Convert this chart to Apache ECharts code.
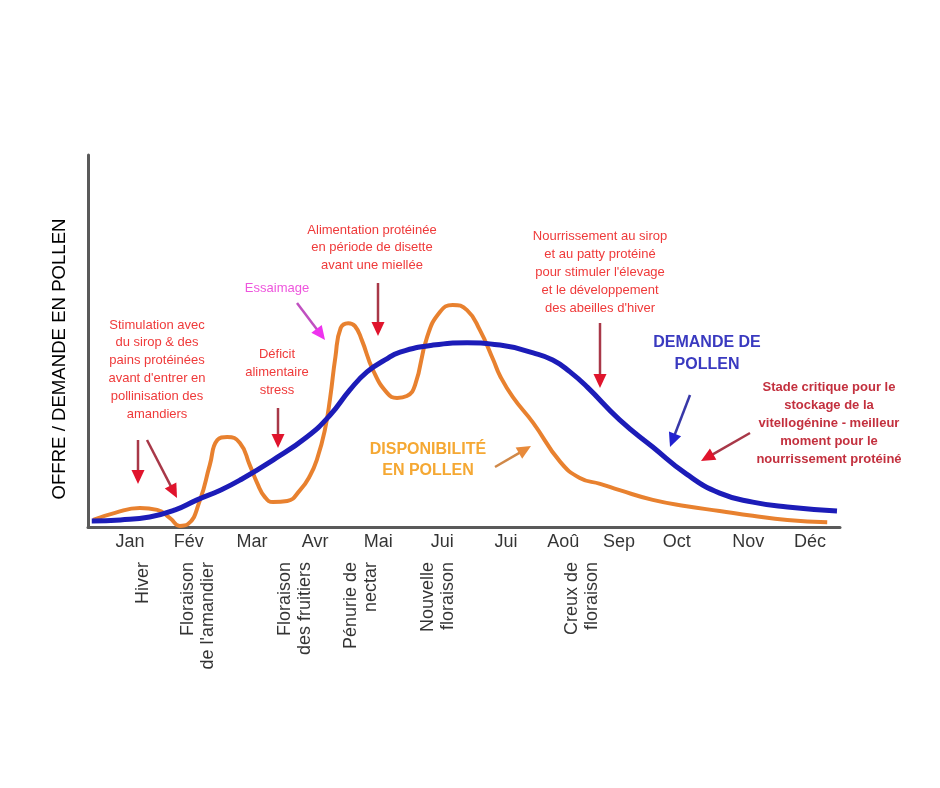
<!DOCTYPE html>
<html><head><meta charset="utf-8">
<script src="https://cdn.jsdelivr.net/npm/echarts@6/dist/echarts.min.js"></script>
<style>html,body{margin:0;padding:0;background:#fff}#c{width:940px;height:788px}</style>
</head><body><div id="c"></div>
<script>
// x positions are in "percent of year" along the axis (0..100), y is relative level (0..100)
const yTitle = 'OFFRE / DEMANDE EN POLLEN';
const months = ['Jan','Fév','Mar','Avr','Mai','Jui','Jui','Aoû','Sep','Oct','Nov','Déc'];
const monthPos = [5.6,13.4,21.8,30.2,38.6,47.1,55.6,63.2,70.6,78.3,87.8,96.0];
const seasons = ['Hiver','Floraison\nde l\'amandier','Floraison\ndes fruitiers','Pénurie de\nnectar','Nouvelle\nfloraison','Creux de\nfloraison'];
const seasonPos = [7.3,14.6,27.5,36.3,46.5,65.7];
const demandX = [0.5,4.3,8.2,11.6,14.5,17.6,20.2,24.6,29.1,32.2,34.8,37.1,39.5,41.5,45.9,50.4,54.8,59.2,61.8,64.1,66.4,70.7,75.1,79.6,84.0,88.4,93.0,99.6];
const demandY = [1.6,1.9,2.7,4.6,7.3,9.9,12.6,18.0,24.2,30.1,36.8,41.7,44.9,47.0,48.9,49.5,48.9,46.8,44.9,41.7,37.6,28.8,21.5,14.2,9.1,6.7,5.4,4.3];
const supplyX = [0.7,3.6,6.9,9.2,10.9,12.2,13.3,14.9,16.2,17.2,18.5,20.2,21.5,22.5,23.5,24.6,26.5,28.2,29.5,30.5,31.5,32.2,32.9,33.6,34.6,35.5,36.4,37.9,39.8,41.1,42.4,43.5,45.1,46.8,48.5,50.4,52.1,53.9,54.8,56.5,59.2,62.8,65.4,68.1,70.7,75.1,79.6,84.0,88.4,93.0,98.3];
const supplyY = [1.9,3.8,5.1,4.6,2.4,0.3,0.8,7.3,16.7,23.4,24.2,22.6,16.7,11.8,8.1,6.7,7.0,9.9,13.7,18.5,26.1,34.7,45.7,53.5,54.8,54.0,50.3,42.2,36.0,34.7,35.2,38.2,51.1,57.8,59.7,58.3,53.0,44.9,40.6,34.9,28.0,17.5,13.2,11.6,9.9,7.3,5.6,4.3,3.0,1.9,1.3];

const F = '"Liberation Sans", Arial, sans-serif';
const chart = echarts.init(document.getElementById('c'), null, {renderer:'canvas'});

function arrow(x1,y1,x2,y2,shaft,head,w){
  const dx=x2-x1, dy=y2-y1, L=Math.hypot(dx,dy), ux=dx/L, uy=dy/L;
  const hl=14, hw=6.5;
  const bx=x2-ux*hl, by=y2-uy*hl;
  return [
    {type:'line', shape:{x1:x1,y1:y1,x2:bx+ux*2,y2:by+uy*2}, style:{stroke:shaft,lineWidth:w||2.5}, z:10},
    {type:'polygon', shape:{points:[[x2,y2],[bx-uy*hw,by+ux*hw],[bx+uy*hw,by-ux*hw]]}, style:{fill:head}, z:10}
  ];
}
function txt(t,x,y,color,size,bold,lh){
  return {type:'text', z:10, style:{text:t,x:x,y:y,fill:color,font:(bold?'bold ':'')+size+'px '+F,align:'center',verticalAlign:'middle',lineHeight:lh||18}};
}
const red='#ef3a3a', shaftRed='#a83848', headRed='#e0142c';
const graphics = [].concat(
  [{type:'text', x:60, y:359, rotation:Math.PI/2, z:10, style:{text:yTitle, x:0, y:0, fill:'#000', font:'18.6px '+F, align:'center', verticalAlign:'middle'}}],
  txt('Stimulation avec\ndu sirop & des\npains protéinées\navant d\'entrer en\npollinisation des\namandiers',157,369.5,red,13,false,17.8),
  txt('Essaimage',277,288,'#ee55dd',13,false),
  txt('Déficit\nalimentaire\nstress',277,372,red,13,false,18),
  txt('Alimentation protéinée\nen période de disette\navant une miellée',372,247.5,red,13,false,17.5),
  txt('Nourrissement au sirop\net au patty protéiné\npour stimuler l\'élevage\net le développement\ndes abeilles d\'hiver',600,272,red,13,false,18),
  txt('DEMANDE DE\nPOLLEN',707,354,'#3a3ac0',16,true,22),
  txt('Stade critique pour le\nstockage de la\nvitellogénine - meilleur\nmoment pour le\nnourrissement protéiné',829,423,'#c3303e',13,true,18),
  txt('DISPONIBILITÉ\nEN POLLEN',428,460.5,'#f5a833',16,true,21),
  arrow(138,440,138,484,shaftRed,headRed),
  arrow(147,440,177,498,shaftRed,headRed),
  arrow(278,408,278,448,shaftRed,headRed),
  arrow(297,303,325,340,'#c050c0','#ee33ee'),
  arrow(378,283,378,336,shaftRed,headRed),
  arrow(600,323,600,388,shaftRed,headRed),
  arrow(690,395,670,447,'#3838a8','#2020d0'),
  arrow(750,433,701,461,shaftRed,headRed),
  arrow(495,467,531,446,'#d08848','#e88a3a')
);

const option = {
  backgroundColor:'#fff',
  animation:false,
  grid:{left:88, top:155, width:752, height:372},
  xAxis:{type:'value', min:0, max:100, axisLine:{show:true, onZero:false, lineStyle:{color:'#5a5a5a', width:3}}, axisTick:{show:false}, axisLabel:{show:false}, splitLine:{show:false}},
  yAxis:{type:'value', min:0, max:100,
    axisLine:{show:true, lineStyle:{color:'#5a5a5a', width:3}}, axisTick:{show:false}, axisLabel:{show:false}, splitLine:{show:false}},
  series:[
    {type:'line', name:'Disponibilité', smooth:0.5, symbol:'none', data:supplyX.map((x,i)=>[x,supplyY[i]]),
      lineStyle:{color:'#e8812f', width:4}, z:3},
    {type:'line', name:'Demande', smooth:0.5, symbol:'none', data:demandX.map((x,i)=>[x,demandY[i]]),
      lineStyle:{color:'#1c1cb8', width:5}, z:4},
    {type:'scatter', symbolSize:0, clip:false, silent:true,
      data:months.map((m,i)=>({name:m, value:[monthPos[i],0]})),
      label:{show:true, position:[0,15], align:'center', verticalAlign:'middle', formatter:p=>p.name, fontSize:18, color:'#000', fontFamily:F}},
    {type:'scatter', symbolSize:0, clip:false, silent:true,
      data:seasons.map((s,i)=>({name:s, value:[seasonPos[i],0]})),
      label:{show:true, position:[0,35], rotate:90, align:'right', verticalAlign:'middle', formatter:p=>p.name, fontSize:18, lineHeight:20, color:'#000', fontFamily:F}}
  ],
  graphic:graphics
};
chart.setOption(option);
</script>
</body></html>
